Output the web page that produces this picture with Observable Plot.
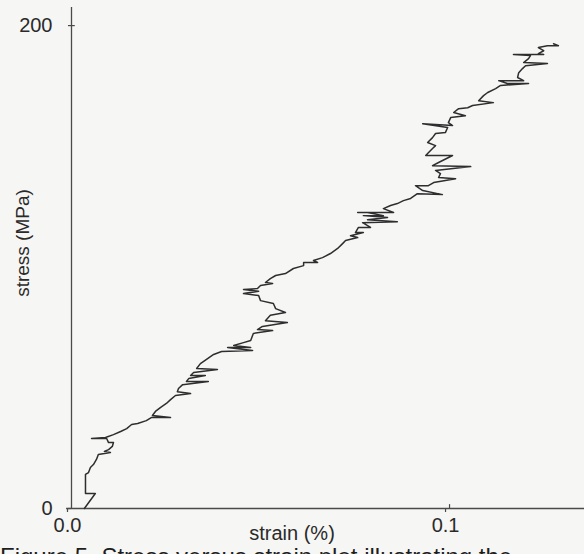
<!DOCTYPE html>
<html>
<head>
<meta charset="utf-8">
<script src="https://cdn.jsdelivr.net/npm/d3@7"></script>
<script src="https://cdn.jsdelivr.net/npm/@observablehq/plot@0.6"></script>
<style>
  html, body { margin: 0; padding: 0; background: #f6f6f5; overflow: hidden; }
  #chart svg { display: block; background: #f6f6f5; overflow: visible; }
  #caption { font-family: "Liberation Sans", Arial, sans-serif; font-size: 24px; color: #1e1e1e;
             white-space: nowrap; margin: 0; line-height: 20px; }
</style>
</head>
<body>
<div id="chart"></div>
<div id="caption">Figure 5. Stress versus strain plot illustrating the</div>
<script>
// strain (%) values along the recorded trace
const strain = [
  0.0034, 0.0063, 0.0037, 0.0037, 0.0045, 0.0050, 0.0058, 0.0066, 0.0071, 0.0103,
  0.0087, 0.0098, 0.0108, 0.0111, 0.0098, 0.0093, 0.0053, 0.0090, 0.0111, 0.0130,
  0.0146, 0.0159, 0.0175, 0.0198, 0.0212, 0.0262, 0.0214, 0.0222, 0.0235, 0.0251,
  0.0262, 0.0275, 0.0315, 0.0280, 0.0283, 0.0294, 0.0362, 0.0304, 0.0310, 0.0354,
  0.0315, 0.0323, 0.0386, 0.0331, 0.0341, 0.0360, 0.0376, 0.0397, 0.0479, 0.0413,
  0.0474, 0.0429, 0.0455, 0.0474, 0.0481, 0.0532, 0.0492, 0.0505, 0.0571, 0.0513,
  0.0526, 0.0566, 0.0540, 0.0534, 0.0500, 0.0495, 0.0455, 0.0495, 0.0455, 0.0492,
  0.0500, 0.0532, 0.0513, 0.0526, 0.0540, 0.0566, 0.0587, 0.0614, 0.0614, 0.0651,
  0.0640, 0.0664, 0.0685, 0.0704, 0.0717, 0.0725, 0.0757, 0.0738, 0.0772, 0.0751,
  0.0759, 0.0791, 0.0770, 0.0862, 0.0783, 0.0836, 0.0772, 0.0825, 0.0783, 0.0757,
  0.0852, 0.0825, 0.0844, 0.0862, 0.0878, 0.0897, 0.0915, 0.0981, 0.0929, 0.0910,
  0.0944, 0.0958, 0.1016, 0.0971, 0.0976, 0.0963, 0.1056, 0.0955, 0.0971, 0.1008,
  0.0937, 0.0942, 0.0955, 0.0963, 0.0942, 0.0955, 0.0963, 0.0989, 0.0995, 0.0929,
  0.1008, 0.0997, 0.1003, 0.1042, 0.1011, 0.1024, 0.1048, 0.1061, 0.1116, 0.1077,
  0.1090, 0.1101, 0.1122, 0.1135, 0.1209, 0.1153, 0.1130, 0.1196, 0.1180, 0.1183,
  0.1193, 0.1201, 0.1259, 0.1196, 0.1209, 0.1214, 0.1169, 0.1249, 0.1235, 0.1249,
  0.1235, 0.1259, 0.1288, 0.1275
];
// stress (MPa) values along the recorded trace
const stress = [
  0.0, 6.2, 6.2, 14.1, 14.9, 17.0, 18.2, 20.3, 22.4, 23.2,
  23.6, 24.4, 25.7, 27.3, 27.3, 29.0, 29.0, 29.4, 30.6, 31.9,
  33.1, 34.8, 35.2, 36.4, 37.7, 37.7, 38.5, 40.2, 41.8, 43.5,
  45.1, 46.8, 47.6, 48.4, 49.7, 51.3, 52.6, 52.6, 53.8, 55.1,
  55.1, 56.3, 57.6, 58.0, 60.0, 62.1, 63.8, 65.0, 65.4, 66.7,
  66.7, 67.5, 68.7, 69.6, 72.5, 73.7, 74.1, 75.4, 77.0, 77.8,
  80.0, 81.2, 82.8, 84.9, 86.1, 88.2, 89.0, 90.0, 90.7, 91.1,
  92.4, 93.2, 93.6, 95.2, 96.5, 97.3, 99.4, 100.6, 101.9, 101.9,
  102.7, 103.9, 105.6, 107.7, 109.7, 111.0, 112.2, 113.0, 114.3, 114.3,
  116.4, 116.4, 118.4, 118.8, 119.6, 120.5, 121.3, 121.3, 122.6, 122.6,
  122.6, 124.2, 125.5, 126.3, 127.5, 128.4, 130.4, 130.0, 131.7, 133.7,
  133.7, 135.0, 136.6, 137.1, 138.7, 140.0, 141.6, 142.0, 143.3, 146.2,
  146.2, 147.0, 149.1, 150.3, 151.6, 153.6, 155.3, 155.7, 157.8, 159.4,
  158.6, 159.8, 161.9, 162.7, 164.0, 165.6, 166.0, 166.9, 168.1, 168.9,
  171.0, 172.3, 173.9, 175.2, 176.0, 176.0, 177.2, 177.2, 178.5, 180.5,
  182.2, 183.4, 184.3, 184.7, 186.3, 187.6, 188.0, 188.0, 188.4, 189.6,
  190.9, 191.7, 191.7, 192.5
];
const xTicks = [0, 0.1];
const xTickLabels = ["0.0", "0.1"];
const yTicks = [0, 200];
const yTickLabels = ["0", "200"];
const xLabel = "strain (%)";
const yLabel = "stress (MPa)";

const data = strain.map((s, i) => ({strain: s, stress: stress[i]}));
const axisColor = "#4a4a4a";
const textColor = "#2a2a2a";
const font = "'Liberation Sans', Arial, Helvetica, sans-serif";

const chart = Plot.plot({
  width: 584,
  height: 547,
  marginLeft: 71,
  marginRight: 0,
  marginTop: 7,
  marginBottom: 39,
  style: {fontFamily: font, fontSize: "20px", color: textColor, background: "#f6f6f5", overflow: "visible"},
  x: {domain: [0, 0.1357]},
  y: {domain: [0, 207.5]},
  marks: [
    // axis lines
    Plot.ruleY([0], {x1: -0.0013, x2: 0.1357, stroke: axisColor, strokeWidth: 1.3}),
    Plot.ruleX([0], {y1: 0, y2: 207.5, stroke: axisColor, strokeWidth: 1.3}),
    // inner halves of crossing ticks
    Plot.ruleX(xTicks.slice(1), {y1: 0, y2: 1.6, stroke: axisColor, strokeWidth: 1.2}),
    Plot.ruleY(yTicks.slice(1), {x1: 0, x2: 0.001, stroke: axisColor, strokeWidth: 1.2}),
    Plot.axisX({
      ticks: xTicks, tickFormat: (d, i) => xTickLabels[i], tickSize: 4, tickPadding: 5,
      dx: -4, stroke: axisColor, strokeWidth: 1.2, fontSize: 20, fill: textColor, label: null
    }),
    Plot.axisY({
      ticks: yTicks, tickFormat: (d, i) => yTickLabels[i], tickSize: 3, tickPadding: 16,
      stroke: axisColor, strokeWidth: 1.2, fontSize: 20, fill: textColor, label: null
    }),
    Plot.text([xLabel], {frameAnchor: "bottom", textAnchor: "middle", dx: -36, dy: 31, fontSize: 20, fill: textColor}),
    Plot.text([yLabel], {frameAnchor: "left", rotate: -90, textAnchor: "middle", lineAnchor: "middle",
      dx: -49, dy: -15, fontSize: 19, fill: textColor}),
    Plot.line(data, {x: "strain", y: "stress", stroke: "#2e2e2e", strokeWidth: 1.5, curve: "linear"})
  ]
});
document.getElementById("chart").appendChild(chart);
</script>
</body>
</html>
